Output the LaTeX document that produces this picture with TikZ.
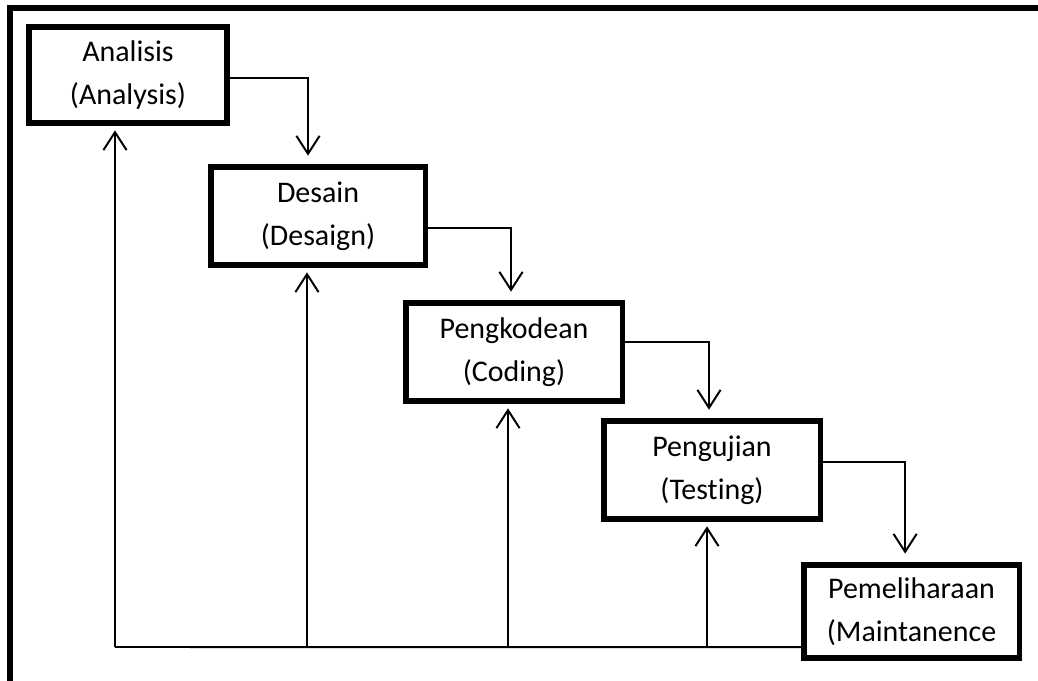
\documentclass[tikz,border=0pt]{standalone}
\usepackage{fontspec}
\setmainfont{Carlito}[Ligatures=NoCommon]
\usetikzlibrary{arrows.meta}

\begin{document}
\begin{tikzpicture}[
          x=0.025cm, y=-0.025cm,
          stage/.style={draw, line width=3.6pt, align=center, inner sep=0pt,
                        font=\fontsize{21.3}{30.5}\selectfont},
          flow/.style={line width=1.4pt, shorten >=0.22cm,
                       -{Straight Barb[length=0.45cm,width=0.58cm]}},
          back/.style={line width=1.4pt, shorten >=0.12cm,
                       -{Straight Barb[length=0.45cm,width=0.58cm]}},
          base/.style={line width=1.4pt}
      ]
        \useasboundingbox (0,0) rectangle (1038,681);

        % Frame
        \draw[line width=4.6pt] (10,681) -- (10,8) -- (1038,8);

        % Stages
        \node[stage, minimum width=4.95cm, minimum height=2.4cm] (ana) at (128,75) {Analisis\\(Analysis)};
        \node[stage, minimum width=5.35cm, minimum height=2.45cm] (des) at (318,216) {Desain\\(Desaign)};
        \node[stage, minimum width=5.4cm, minimum height=2.45cm] (kod) at (514,352) {Pengkodean\\(Coding)};
        \node[stage, minimum width=5.4cm, minimum height=2.45cm] (uji) at (712,470) {Pengujian\\(Testing)};
        \node[stage, minimum width=5.375cm, minimum height=2.325cm] (mai) at (911.5,611.5) {Pemeliharaan\\(Maintanence};

        % Forward steps
        \draw[flow] ([yshift=-0.075cm]ana.east) -| ([xshift=-0.25cm]des.north);
        \draw[flow] ([yshift=-0.3cm]des.east) -| ([xshift=-0.075cm]kod.north);
        \draw[flow] ([yshift=0.25cm]kod.east) -| ([xshift=-0.075cm]uji.north);
        \draw[flow] ([yshift=0.2cm]uji.east) -| ([xshift=-0.16cm]mai.north);

        % Feedback
        \coordinate (loop) at (115,647);
        \draw[base] ([yshift=-0.89cm]mai.west) -- (loop);
        \draw[back] (loop) -- ([xshift=-0.325cm]ana.south);
        \draw[back] ([xshift=-0.275cm]des.south |- loop) -- ([xshift=-0.275cm]des.south);
        \draw[back] ([xshift=-0.15cm]kod.south |- loop) -- ([xshift=-0.15cm]kod.south);
        \draw[back] ([xshift=-0.125cm]uji.south |- loop) -- ([xshift=-0.125cm]uji.south);
      \end{tikzpicture}
\end{document}
